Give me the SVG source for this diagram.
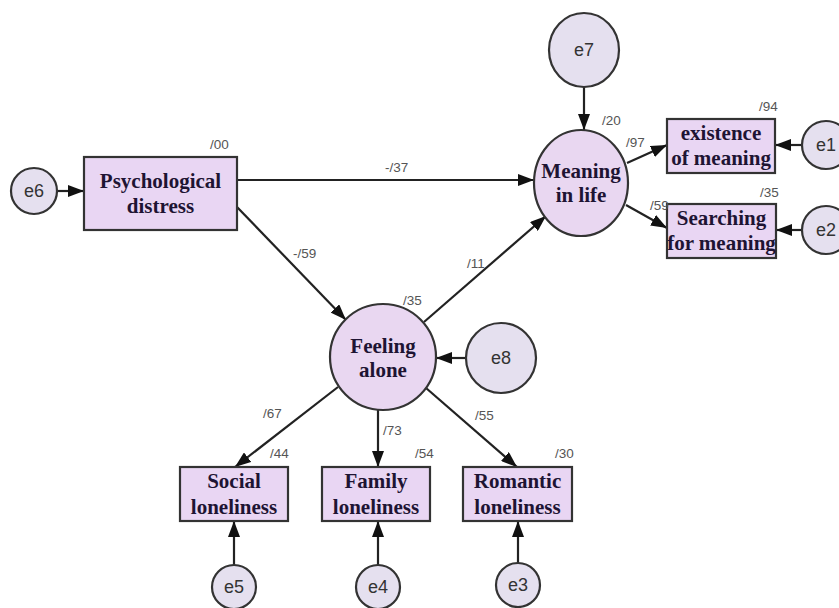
<svg xmlns="http://www.w3.org/2000/svg" width="839" height="608" viewBox="0 0 839 608">
<defs>
<marker id="arr" markerUnits="userSpaceOnUse" markerWidth="17" markerHeight="12" refX="16" refY="6" orient="auto">
<path d="M0,0 L16,6 L0,12 z" fill="#111"/>
</marker>
<style>
.box{fill:#e9d6f3;stroke:#333;stroke-width:2.2}
.lat{fill:#e9d7f1;stroke:#333;stroke-width:2.2}
.err{fill:#e5e0ef;stroke:#333;stroke-width:2.2}
.t{font-family:"Liberation Serif",serif;font-weight:bold;font-size:21px;fill:#1e1433;text-anchor:middle}
.e{font-family:"Liberation Sans",Arial,sans-serif;font-size:18px;fill:#333;text-anchor:middle}
.c{font-family:"Liberation Sans",Arial,sans-serif;font-size:13.5px;fill:#555}
.ln{stroke:#222;stroke-width:2.2;fill:none;marker-end:url(#arr)}
</style>
</defs>
<rect width="839" height="608" fill="#fff"/>

<g id="connectors">
<line class="ln" x1="57" y1="191" x2="84" y2="191"/>
<line class="ln" x1="237" y1="180" x2="534" y2="180"/>
<line class="ln" x1="237" y1="207" x2="346" y2="320"/>
<line class="ln" x1="424" y1="322" x2="546" y2="216"/>
<line class="ln" x1="584" y1="87" x2="584" y2="130"/>
<line class="ln" x1="627" y1="163" x2="667" y2="145"/>
<line class="ln" x1="626" y1="205" x2="667" y2="228"/>
<line class="ln" x1="802" y1="145" x2="775" y2="145"/>
<line class="ln" x1="802" y1="230" x2="776" y2="230"/>
<line class="ln" x1="466" y1="358" x2="436" y2="358"/>
<line class="ln" x1="338" y1="387" x2="235" y2="467"/>
<line class="ln" x1="378" y1="410" x2="378" y2="467"/>
<line class="ln" x1="426" y1="388" x2="517" y2="467"/>
<line class="ln" x1="234" y1="565" x2="234" y2="521"/>
<line class="ln" x1="378" y1="565" x2="378" y2="521"/>
<line class="ln" x1="518" y1="563" x2="518" y2="521"/>
</g>

<g id="psych">
<rect class="box" x="84" y="157" width="153" height="73"/>
<text class="t" x="160.5" y="188">Psychological</text>
<text class="t" x="160.5" y="213">distress</text>
<text class="c" x="210" y="149">/00</text>
</g>
<g id="e6">
<circle class="err" cx="34" cy="191" r="23"/>
<text class="e" x="34" y="197">e6</text>
</g>

<g id="meaning">
<ellipse class="lat" cx="581" cy="183" rx="47" ry="53"/>
<text class="t" x="581" y="178">Meaning</text>
<text class="t" x="581" y="202">in life</text>
<text class="c" x="602" y="125">/20</text>
</g>
<g id="e7">
<ellipse class="err" cx="584" cy="50" rx="35" ry="37"/>
<text class="e" x="584" y="56">e7</text>
</g>

<g id="existence">
<rect class="box" x="667" y="119" width="108" height="54"/>
<text class="t" x="721" y="140">existence</text>
<text class="t" x="721" y="165">of meaning</text>
<text class="c" x="759" y="111">/94</text>
</g>
<g id="e1">
<circle class="err" cx="826" cy="145" r="24"/>
<text class="e" x="826" y="151">e1</text>
</g>

<g id="searching">
<rect class="box" x="667" y="204" width="109" height="54"/>
<text class="t" x="721.5" y="225">Searching</text>
<text class="t" x="721.5" y="250">for meaning</text>
<text class="c" x="760" y="197">/35</text>
</g>
<g id="e2">
<circle class="err" cx="826" cy="230" r="24"/>
<text class="e" x="826" y="236">e2</text>
</g>

<g id="feeling">
<circle class="lat" cx="383" cy="357" r="53"/>
<text class="t" x="383" y="353">Feeling</text>
<text class="t" x="383" y="377">alone</text>
<text class="c" x="403" y="305">/35</text>
</g>
<g id="e8">
<circle class="err" cx="501" cy="358" r="35"/>
<text class="e" x="501" y="364">e8</text>
</g>

<g id="social">
<rect class="box" x="180" y="467" width="108" height="54"/>
<text class="t" x="234" y="488">Social</text>
<text class="t" x="234" y="514">loneliness</text>
<text class="c" x="270" y="458">/44</text>
</g>
<g id="e5">
<circle class="err" cx="234" cy="587" r="22"/>
<text class="e" x="234" y="593">e5</text>
</g>

<g id="family">
<rect class="box" x="322" y="467" width="108" height="54"/>
<text class="t" x="376" y="488">Family</text>
<text class="t" x="376" y="514">loneliness</text>
<text class="c" x="415" y="458">/54</text>
</g>
<g id="e4">
<circle class="err" cx="378" cy="587" r="22"/>
<text class="e" x="378" y="593">e4</text>
</g>

<g id="romantic">
<rect class="box" x="463" y="467" width="109" height="54"/>
<text class="t" x="517.5" y="488">Romantic</text>
<text class="t" x="517.5" y="514">loneliness</text>
<text class="c" x="555" y="458">/30</text>
</g>
<g id="e3">
<circle class="err" cx="518" cy="585" r="22"/>
<text class="e" x="518" y="591">e3</text>
</g>

<g id="labels">
<text class="c" x="385" y="172">-/37</text>
<text class="c" x="293" y="258">-/59</text>
<text class="c" x="467" y="268">/11</text>
<text class="c" x="626" y="147">/97</text>
<text class="c" x="650" y="210">/59</text>
<text class="c" x="263" y="418">/67</text>
<text class="c" x="383" y="435">/73</text>
<text class="c" x="475" y="420">/55</text>
</g>
</svg>
